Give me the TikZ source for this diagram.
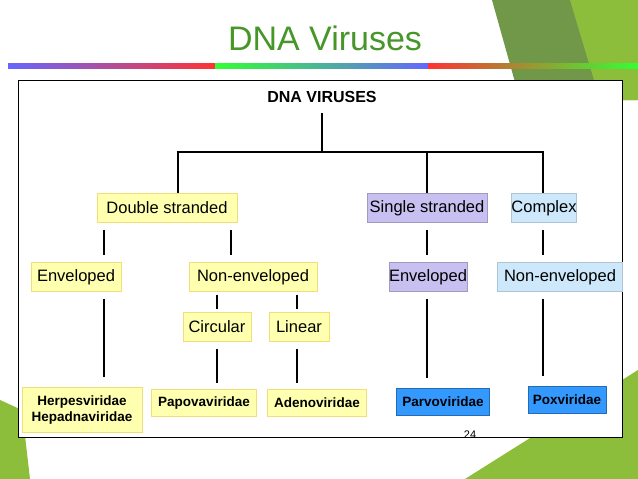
\documentclass[tikz,border=0pt]{standalone}
\usepackage{fontspec}
\setmainfont{Liberation Sans}
\begin{document}
\begin{tikzpicture}[x=1pt,y=-1pt,
  ybox/.style={draw=yellow!60!brown!60, fill=paleyellow, inner sep=0pt, minimum height=29pt, font=\fontsize{16.5}{18}\selectfont},
  pbox/.style={ybox, fill=lavender, draw=lavender!80!black},
  cbox/.style={ybox, fill=paleblue, draw=paleblue!85!black},
  leaf/.style={ybox, minimum height=27pt, font=\fontsize{13.5}{16.5}\selectfont\bfseries},
  bleaf/.style={leaf, fill=leafblue, draw=leafblue!70!black},
  link/.style={line width=2.6pt, shorten >=7pt, shorten <=7pt}]

%─────────────
% Colours
%─────────────
\definecolor{paleyellow}{RGB}{255,255,176}
\definecolor{lavender}{RGB}{200,192,240}
\definecolor{paleblue}{RGB}{204,232,250}
\definecolor{leafblue}{RGB}{51,153,255}
\definecolor{titlegreen}{RGB}{70,150,40}
\definecolor{darkleaf}{RGB}{112,152,72}
\definecolor{lightleaf}{RGB}{140,190,60}

% page and slide decoration
\useasboundingbox (0,0) rectangle (638,479);
\fill[white] (0,0) rectangle (638,479);
\fill[darkleaf] (492,0) -- (638,0) -- (638,100) -- (520,100) -- cycle;
\fill[lightleaf] (570,0) -- (638,0) -- (638,100) -- (600,100) -- cycle;
\fill[lightleaf] (465,479) -- (638,370) -- (638,479) -- cycle;
\fill[lightleaf] (0,400) -- (22,410) -- (30,479) -- (0,479) -- cycle;
\node[text=titlegreen, font=\fontsize{34}{38}\selectfont] (title) at (325,38) {DNA Viruses};
\shade[left color=blue!60, right color=red!80] (8,63) rectangle (215,68);
\shade[left color=green!80, right color=blue!60] (215,63) rectangle (428,68);
\shade[left color=red!80, right color=green!80] (428,63) rectangle (638,68);
\draw[fill=white, line width=0.8pt] (18,80) rectangle (622,437);

%─────────────
% Tree
%─────────────
\node[font=\fontsize{16}{18}\selectfont\bfseries] (root) at (322,97) {DNA VIRUSES};
\node[ybox, minimum width=140pt] (ds) at (167,208) {Double stranded};
\node[pbox, minimum width=120pt] (ss) at (427,208) {Single stranded};
\node[cbox, minimum width=54pt] (cx) at (544,208) {Complex};

\node[ybox, minimum width=90pt] (dsenv) at (76,277) {Enveloped};
\node[ybox, minimum width=128pt] (dsnon) at (253,277) {Non-enveloped};
\node[pbox, minimum width=78pt] (ssenv) at (428,277) {Enveloped};
\node[cbox, minimum width=125pt] (cxnon) at (560,277) {Non-enveloped};
\node[ybox, minimum width=68pt] (circ) at (217,327) {Circular};
\node[ybox, minimum width=60pt] (lin) at (299,327) {Linear};

\node[leaf, minimum width=120pt, minimum height=45pt, align=center] (herpes) at (82,410) {Herpesviridae\\Hepadnaviridae};
\node[leaf, minimum width=105pt] (papova) at (204,403) {Papovaviridae};
\node[leaf, minimum width=99pt] (adeno) at (317,403) {Adenoviridae};
\node[bleaf, minimum width=93pt] (parvo) at (443,402) {Parvoviridae};
\node[bleaf, minimum width=78pt] (pox) at (567,400) {Poxviridae};
\node[font=\fontsize{11}{13}\selectfont] (page) at (470,435) {24};

% connectors
\coordinate (hub) at (322,152);
\coordinate (hubL) at (178,152);
\coordinate (hubM) at (427,152);
\coordinate (hubR) at (543,152);
\draw[line width=2.6pt, shorten <=7pt] (root) -- (hub);
\draw[line width=2.6pt] ([xshift=-1.3pt]hubL) -- ([xshift=1.3pt]hubR);
\draw[line width=2.6pt, shorten >=0pt] (hubL) -- (hubL |- ds.north);
\draw[line width=2.6pt, shorten >=0pt] (hubM) -- (hubM |- ss.north);
\draw[line width=2.6pt, shorten >=0pt] (hubR) -- (hubR |- cx.north);

\draw[link] (104,0 |- ds.south) -- (104,0 |- dsenv.north);
\draw[link] (231,0 |- ds.south) -- (231,0 |- dsnon.north);
\draw[link] (427,0 |- ss.south) -- (427,0 |- ssenv.north);
\draw[link] (543,0 |- cx.south) -- (543,0 |- cxnon.north);
\draw[line width=2.6pt, shorten >=3pt, shorten <=3pt] (217,0 |- dsnon.south) -- (217,0 |- circ.north);
\draw[line width=2.6pt, shorten >=3pt, shorten <=3pt] (297,0 |- dsnon.south) -- (297,0 |- lin.north);
\draw[link, shorten >=10pt] (104,0 |- dsenv.south) -- (104,0 |- herpes.north);
\draw[link, shorten >=6pt] (217,0 |- circ.south) -- (217,0 |- papova.north);
\draw[link, shorten >=6pt] (297,0 |- lin.south) -- (297,0 |- adeno.north);
\draw[link, shorten >=10pt] (427,0 |- ssenv.south) -- (427,0 |- parvo.north);
\draw[link, shorten >=10pt] (543,0 |- cxnon.south) -- (543,0 |- pox.north);

\end{tikzpicture}
\end{document}
